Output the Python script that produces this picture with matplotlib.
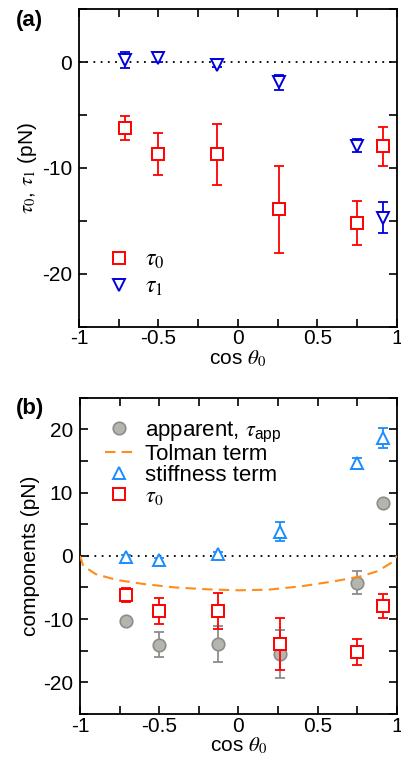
import numpy as np
import matplotlib
matplotlib.use('Agg')
import matplotlib.pyplot as plt
from matplotlib.ticker import MultipleLocator

plt.rcParams['font.family'] = ['Liberation Sans', 'DejaVu Sans']
plt.rcParams['mathtext.fontset'] = 'stix'
plt.rcParams['axes.unicode_minus'] = False

# data
cos_theta = [-0.71, -0.5, -0.13, 0.26, 0.75, 0.91]

tau0 = [-6.2, -8.7, -8.7, -13.9, -15.2, -7.95]
tau0_err = [1.15, 2.0, 2.9, 4.1, 2.1, 1.85]

tau1 = [0.2, 0.35, -0.25, -1.9, -7.9, -14.7]
tau1_err = [0.8, 0.3, 0.25, 0.7, 0.6, 1.45]

tau_app = [-10.3, -14.05, -13.95, -15.5, -4.25, 8.4]
tau_app_err = [0.4, 2.0, 2.9, 3.8, 1.8, 0.4]

stiffness = [-0.2, -0.6, 0.3, 3.8, 14.6, 18.6]
stiffness_err = [0.4, 0.3, 0.3, 1.5, 0.9, 1.6]

tolman_x = [-1.0, -0.98, -0.9, -0.77, -0.6, -0.4, -0.19, 0.0, 0.19, 0.4, 0.61, 0.78, 0.88, 0.97, 1.0]
tolman_y = [0.0, -1.6, -2.9, -3.8, -4.45, -5.0, -5.3, -5.45, -5.35, -4.8, -4.0, -3.2, -2.4, -1.0, 0.0]

red = '#ff0000'
blue = '#0000dd'
lightblue = '#1a8cff'
gray_face = '#b4b6ae'
gray_edge = '#8c8c8c'
orange = '#ff8c1a'

fig = plt.figure(figsize=(4.01, 7.61), dpi=100)
ax1 = fig.add_axes([0.197, 0.5707, 0.793, 0.4172])
ax2 = fig.add_axes([0.1995, 0.0618, 0.7905, 0.4156])

def style_axes(ax):
    ax.set_xlim(-1, 1)
    ax.xaxis.set_major_locator(MultipleLocator(0.5))
    ax.xaxis.set_minor_locator(MultipleLocator(0.25))
    ax.yaxis.set_major_locator(MultipleLocator(10))
    ax.yaxis.set_minor_locator(MultipleLocator(5))
    ax.tick_params(which='both', direction='in', top=True, right=True,
                   length=6, width=1.2, labelsize=15)
    ax.tick_params(axis='x', which='both', pad=2)
    ax.tick_params(axis='y', which='both', pad=5)
    ax.xaxis.set_major_formatter(plt.FuncFormatter(lambda v, p: '%g' % v))
    for s in ax.spines.values():
        s.set_linewidth(1.3)
    ax.axhline(0, color='black', ls=(0, (1, 3)), lw=1.3, zorder=1)
    ax.set_xlabel(r'cos $\theta_0$', fontsize=15, labelpad=0)

# panel (a)
ax1.set_ylim(-25, 5)
style_axes(ax1)
ax1.errorbar(cos_theta, tau1, yerr=tau1_err, fmt='none', ecolor=blue,
             elinewidth=1.3, capsize=3.3, capthick=1.3, zorder=2)
ax1.plot(cos_theta, tau1, 'v', ms=9, mfc='white', mec=blue, mew=1.4,
         ls='none', label=r'$\tau_1$', zorder=3)
ax1.errorbar(cos_theta, tau0, yerr=tau0_err, fmt='none', ecolor=red,
             elinewidth=1.3, capsize=3.3, capthick=1.3, zorder=2)
ax1.plot(cos_theta, tau0, 's', ms=8, mfc='white', mec=red, mew=1.4,
         ls='none', label=r'$\tau_0$', zorder=3)
h, l = ax1.get_legend_handles_labels()
ax1.legend(h[::-1], l[::-1], loc='lower left', bbox_to_anchor=(0.06, 0.06),
           frameon=False, fontsize=17, handlelength=1.0, handletextpad=0.6,
           labelspacing=0.2, borderaxespad=0)
ax1.set_ylabel(r'$\tau_0$, $\tau_1$ (pN)', fontsize=15, labelpad=2)
fig.text(0.04, 0.973, '(a)', fontsize=16, fontweight='bold', ha='left', va='center')

# panel (b)
ax2.set_ylim(-25, 25)
style_axes(ax2)
ax2.errorbar(cos_theta, tau_app, yerr=tau_app_err, fmt='none', ecolor=gray_edge,
             elinewidth=1.3, capsize=3.3, capthick=1.3, zorder=2)
ax2.plot(cos_theta, tau_app, 'o', ms=9, mfc=gray_face, mec=gray_edge, mew=1.2,
         ls='none', label=r'apparent, $\tau_{\mathregular{app}}$', zorder=3)
ax2.plot(tolman_x, tolman_y, ls=(0, (5, 3)), color=orange, lw=1.5,
         label='Tolman term', zorder=3)
ax2.errorbar(cos_theta, stiffness, yerr=stiffness_err, fmt='none', ecolor=lightblue,
             elinewidth=1.3, capsize=3.3, capthick=1.3, zorder=4)
ax2.plot(cos_theta, stiffness, '^', ms=9, mfc='white', mec=lightblue, mew=1.4,
         ls='none', label='stiffness term', zorder=5)
ax2.errorbar(cos_theta, tau0, yerr=tau0_err, fmt='none', ecolor=red,
             elinewidth=1.3, capsize=3.3, capthick=1.3, zorder=4)
ax2.plot(cos_theta, tau0, 's', ms=8, mfc='white', mec=red, mew=1.4,
         ls='none', label=r'$\tau_0$', zorder=5)
ax2.legend(loc='upper left', bbox_to_anchor=(0.05, 0.96), frameon=False,
           fontsize=16, handlelength=1.3, handletextpad=0.5,
           labelspacing=0.0, borderaxespad=0)
ax2.set_ylabel('components (pN)', fontsize=15, labelpad=2)
fig.text(0.04, 0.463, '(b)', fontsize=16, fontweight='bold', ha='left', va='center')

fig.savefig('out.png', dpi=100)
